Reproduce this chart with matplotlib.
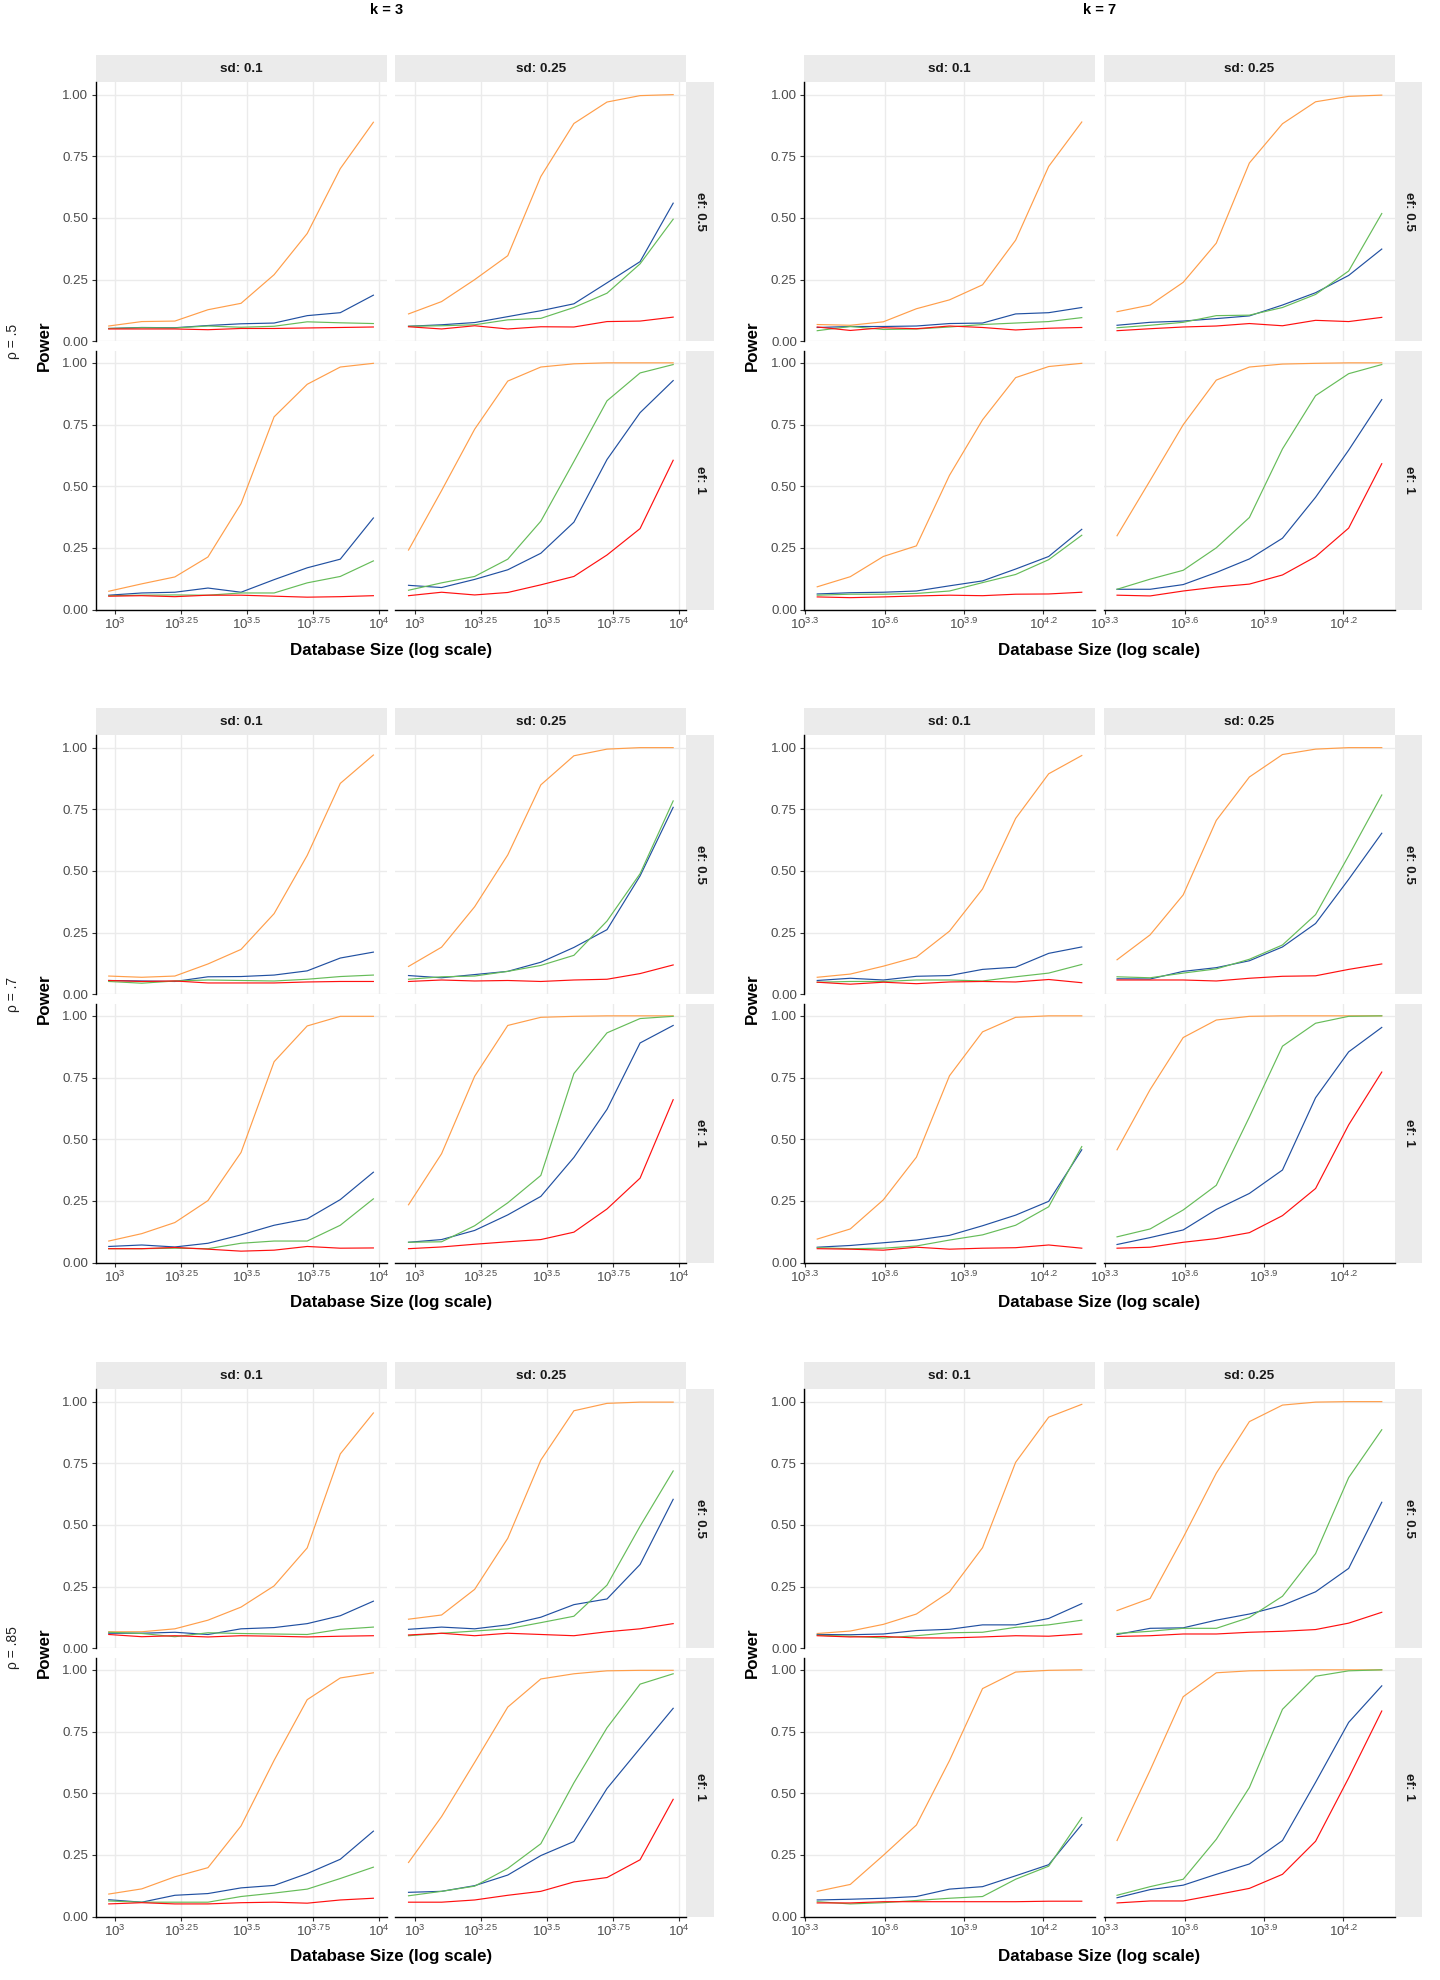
import numpy as np
import matplotlib
matplotlib.use("Agg")
import matplotlib.pyplot as plt
from matplotlib.ticker import NullLocator, FixedLocator

plt.rcParams['font.family'] = ['Liberation Sans', 'DejaVu Sans']
plt.rcParams['mathtext.fontset'] = 'custom'
plt.rcParams['mathtext.rm'] = 'Liberation Sans'

# ---------------- data ----------------
k_values = [3, 7]
rho_labels = ["ρ = .5", "ρ = .7", "ρ = .85"]
sd_labels = ["sd: 0.1", "sd: 0.25"]
ef_labels = ["ef: 0.5", "ef: 1"]
series_names = ["orange", "blue", "green", "red"]
series_colors = ["#FF9E4A", "#2150A1", "#66BC59", "#FF1010"]

db_size_k3 = [949, 1265, 1687, 2250, 3000, 4000, 5335, 7114, 9487]
db_size_k7 = [2214, 2952, 3936, 5249, 7000, 9334, 12448, 16599, 22136]

xtick_exp_k3 = [3, 3.25, 3.5, 3.75, 4]
xtick_lab_k3 = ["3", "3.25", "3.5", "3.75", "4"]
xtick_exp_k7 = [3.3, 3.6, 3.9, 4.2]
xtick_lab_k7 = ["3.3", "3.6", "3.9", "4.2"]
ytick_vals = [0.0, 0.25, 0.5, 0.75, 1.0]
ytick_labs = ["0.00", "0.25", "0.50", "0.75", "1.00"]

# rho = .5, k = 3
r5_k3_sd01_ef05 = {
    "orange": [0.062, 0.080, 0.082, 0.128, 0.154, 0.270, 0.437, 0.700, 0.888],
    "blue":   [0.052, 0.056, 0.055, 0.064, 0.071, 0.074, 0.104, 0.116, 0.187],
    "green":  [0.052, 0.055, 0.054, 0.062, 0.057, 0.061, 0.079, 0.075, 0.072],
    "red":    [0.050, 0.050, 0.050, 0.047, 0.052, 0.052, 0.054, 0.056, 0.058]}
r5_k3_sd025_ef05 = {
    "orange": [0.111, 0.161, 0.250, 0.347, 0.668, 0.883, 0.970, 0.996, 1.0],
    "blue":   [0.061, 0.067, 0.076, 0.100, 0.124, 0.152, 0.237, 0.323, 0.560],
    "green":  [0.061, 0.063, 0.067, 0.087, 0.093, 0.137, 0.195, 0.314, 0.495],
    "red":    [0.059, 0.050, 0.063, 0.050, 0.059, 0.058, 0.080, 0.082, 0.098]}
r5_k3_sd01_ef1 = {
    "orange": [0.074, 0.104, 0.132, 0.213, 0.429, 0.781, 0.913, 0.983, 0.998],
    "blue":   [0.058, 0.067, 0.070, 0.087, 0.070, 0.121, 0.169, 0.204, 0.371],
    "green":  [0.056, 0.058, 0.059, 0.058, 0.067, 0.067, 0.108, 0.134, 0.197],
    "red":    [0.054, 0.056, 0.052, 0.058, 0.058, 0.054, 0.050, 0.052, 0.056]}
r5_k3_sd025_ef1 = {
    "orange": [0.241, 0.482, 0.731, 0.926, 0.983, 0.996, 1.0, 1.0, 1.0],
    "blue":   [0.098, 0.089, 0.122, 0.161, 0.228, 0.354, 0.608, 0.798, 0.928],
    "green":  [0.078, 0.108, 0.134, 0.204, 0.358, 0.600, 0.846, 0.959, 0.993],
    "red":    [0.056, 0.070, 0.059, 0.069, 0.100, 0.134, 0.221, 0.328, 0.605]}

# rho = .5, k = 7
r5_k7_sd01_ef05 = {
    "orange": [0.068, 0.065, 0.079, 0.132, 0.168, 0.229, 0.410, 0.709, 0.889],
    "blue":   [0.056, 0.060, 0.060, 0.062, 0.072, 0.074, 0.111, 0.116, 0.137],
    "green":  [0.043, 0.060, 0.048, 0.050, 0.058, 0.068, 0.074, 0.080, 0.096],
    "red":    [0.058, 0.044, 0.055, 0.051, 0.062, 0.056, 0.046, 0.053, 0.056]}
r5_k7_sd025_ef05 = {
    "orange": [0.120, 0.147, 0.239, 0.398, 0.723, 0.882, 0.971, 0.993, 0.998],
    "blue":   [0.065, 0.077, 0.082, 0.092, 0.103, 0.147, 0.197, 0.267, 0.374],
    "green":  [0.055, 0.065, 0.077, 0.104, 0.106, 0.137, 0.190, 0.285, 0.518],
    "red":    [0.043, 0.051, 0.058, 0.062, 0.072, 0.063, 0.085, 0.080, 0.097]}
r5_k7_sd01_ef1 = {
    "orange": [0.092, 0.133, 0.215, 0.258, 0.544, 0.769, 0.940, 0.985, 0.998],
    "blue":   [0.063, 0.068, 0.070, 0.075, 0.096, 0.116, 0.164, 0.215, 0.325],
    "green":  [0.058, 0.062, 0.062, 0.065, 0.075, 0.109, 0.142, 0.202, 0.301],
    "red":    [0.051, 0.048, 0.051, 0.055, 0.058, 0.056, 0.062, 0.063, 0.070]}
r5_k7_sd025_ef1 = {
    "orange": [0.299, 0.523, 0.749, 0.930, 0.983, 0.995, 0.998, 1.0, 1.0],
    "blue":   [0.082, 0.082, 0.101, 0.150, 0.205, 0.289, 0.455, 0.646, 0.851],
    "green":  [0.082, 0.123, 0.159, 0.250, 0.373, 0.651, 0.867, 0.956, 0.993],
    "red":    [0.058, 0.055, 0.075, 0.091, 0.103, 0.140, 0.214, 0.330, 0.591]}

# rho = .7, k = 3
r7_k3_sd01_ef05 = {
    "orange": [0.074, 0.069, 0.074, 0.123, 0.182, 0.327, 0.563, 0.855, 0.970],
    "blue":   [0.056, 0.054, 0.052, 0.071, 0.072, 0.078, 0.095, 0.147, 0.171],
    "green":  [0.052, 0.045, 0.054, 0.058, 0.056, 0.054, 0.061, 0.072, 0.078],
    "red":    [0.056, 0.052, 0.054, 0.046, 0.046, 0.046, 0.050, 0.052, 0.052]}
r7_k3_sd025_ef05 = {
    "orange": [0.113, 0.191, 0.355, 0.565, 0.849, 0.967, 0.994, 1.0, 1.0],
    "blue":   [0.076, 0.067, 0.080, 0.093, 0.130, 0.190, 0.262, 0.480, 0.758],
    "green":  [0.061, 0.071, 0.074, 0.093, 0.117, 0.158, 0.297, 0.489, 0.784],
    "red":    [0.052, 0.058, 0.054, 0.056, 0.052, 0.058, 0.061, 0.084, 0.119]}
r7_k3_sd01_ef1 = {
    "orange": [0.087, 0.117, 0.162, 0.251, 0.446, 0.814, 0.959, 0.998, 0.998],
    "blue":   [0.065, 0.071, 0.063, 0.078, 0.112, 0.151, 0.177, 0.255, 0.366],
    "green":  [0.056, 0.056, 0.058, 0.056, 0.078, 0.087, 0.087, 0.151, 0.258],
    "red":    [0.056, 0.056, 0.061, 0.054, 0.046, 0.050, 0.065, 0.058, 0.059]}
r7_k3_sd025_ef1 = {
    "orange": [0.234, 0.441, 0.755, 0.961, 0.994, 0.998, 1.0, 1.0, 1.0],
    "blue":   [0.082, 0.093, 0.130, 0.193, 0.268, 0.426, 0.621, 0.890, 0.961],
    "green":  [0.082, 0.084, 0.149, 0.242, 0.353, 0.766, 0.931, 0.989, 0.998],
    "red":    [0.056, 0.063, 0.074, 0.084, 0.093, 0.123, 0.217, 0.342, 0.660]}

# rho = .7, k = 7
r7_k7_sd01_ef05 = {
    "orange": [0.069, 0.082, 0.114, 0.151, 0.256, 0.427, 0.713, 0.894, 0.968],
    "blue":   [0.056, 0.065, 0.058, 0.073, 0.076, 0.101, 0.110, 0.166, 0.192],
    "green":  [0.049, 0.052, 0.052, 0.058, 0.058, 0.054, 0.071, 0.086, 0.121],
    "red":    [0.049, 0.041, 0.049, 0.043, 0.050, 0.052, 0.050, 0.060, 0.047]}
r7_k7_sd025_ef05 = {
    "orange": [0.140, 0.241, 0.403, 0.705, 0.881, 0.972, 0.994, 1.0, 1.0],
    "blue":   [0.063, 0.062, 0.093, 0.108, 0.136, 0.192, 0.287, 0.466, 0.653],
    "green":  [0.071, 0.067, 0.086, 0.103, 0.142, 0.200, 0.323, 0.562, 0.808],
    "red":    [0.058, 0.058, 0.058, 0.054, 0.065, 0.073, 0.075, 0.101, 0.123]}
r7_k7_sd01_ef1 = {
    "orange": [0.095, 0.136, 0.254, 0.427, 0.757, 0.935, 0.994, 1.0, 1.0],
    "blue":   [0.062, 0.069, 0.080, 0.091, 0.110, 0.149, 0.192, 0.248, 0.457],
    "green":  [0.060, 0.056, 0.058, 0.067, 0.091, 0.112, 0.151, 0.226, 0.470],
    "red":    [0.056, 0.054, 0.050, 0.062, 0.054, 0.058, 0.060, 0.071, 0.058]}
r7_k7_sd025_ef1 = {
    "orange": [0.457, 0.701, 0.912, 0.983, 0.998, 1.0, 1.0, 1.0, 1.0],
    "blue":   [0.073, 0.101, 0.132, 0.215, 0.280, 0.375, 0.668, 0.854, 0.953],
    "green":  [0.104, 0.136, 0.213, 0.313, 0.590, 0.877, 0.970, 0.998, 1.0],
    "red":    [0.058, 0.062, 0.082, 0.097, 0.121, 0.190, 0.300, 0.558, 0.772]}

# rho = .85, k = 3
r85_k3_sd01_ef05 = {
    "orange": [0.067, 0.067, 0.079, 0.114, 0.167, 0.253, 0.407, 0.788, 0.954],
    "blue":   [0.061, 0.061, 0.065, 0.056, 0.079, 0.084, 0.100, 0.132, 0.191],
    "green":  [0.065, 0.060, 0.047, 0.063, 0.060, 0.058, 0.056, 0.077, 0.086],
    "red":    [0.056, 0.047, 0.051, 0.046, 0.051, 0.049, 0.046, 0.049, 0.051]}
r85_k3_sd025_ef05 = {
    "orange": [0.118, 0.135, 0.239, 0.446, 0.763, 0.963, 0.993, 0.998, 0.998],
    "blue":   [0.077, 0.086, 0.079, 0.095, 0.126, 0.177, 0.200, 0.340, 0.604],
    "green":  [0.051, 0.061, 0.070, 0.079, 0.104, 0.130, 0.256, 0.495, 0.719],
    "red":    [0.054, 0.061, 0.051, 0.061, 0.056, 0.051, 0.067, 0.079, 0.100]}
r85_k3_sd01_ef1 = {
    "orange": [0.091, 0.112, 0.161, 0.198, 0.367, 0.633, 0.879, 0.967, 0.988],
    "blue":   [0.068, 0.058, 0.086, 0.093, 0.116, 0.126, 0.174, 0.232, 0.346],
    "green":  [0.063, 0.058, 0.058, 0.058, 0.081, 0.095, 0.111, 0.154, 0.200],
    "red":    [0.051, 0.056, 0.051, 0.051, 0.056, 0.058, 0.054, 0.067, 0.074]}
r85_k3_sd025_ef1 = {
    "orange": [0.219, 0.405, 0.625, 0.849, 0.963, 0.984, 0.996, 0.998, 0.998],
    "blue":   [0.098, 0.102, 0.125, 0.168, 0.247, 0.304, 0.519, 0.682, 0.844],
    "green":  [0.084, 0.102, 0.123, 0.195, 0.295, 0.542, 0.765, 0.942, 0.984],
    "red":    [0.058, 0.058, 0.067, 0.086, 0.102, 0.140, 0.158, 0.230, 0.475]}

# rho = .85, k = 7
r85_k7_sd01_ef05 = {
    "orange": [0.060, 0.070, 0.097, 0.139, 0.229, 0.408, 0.754, 0.937, 0.989],
    "blue":   [0.056, 0.055, 0.058, 0.072, 0.077, 0.095, 0.095, 0.121, 0.181],
    "green":  [0.053, 0.049, 0.042, 0.051, 0.063, 0.065, 0.085, 0.095, 0.114],
    "red":    [0.051, 0.046, 0.048, 0.042, 0.042, 0.046, 0.051, 0.049, 0.058]}
r85_k7_sd025_ef05 = {
    "orange": [0.153, 0.202, 0.449, 0.710, 0.919, 0.986, 0.998, 1.0, 1.0],
    "blue":   [0.056, 0.081, 0.083, 0.114, 0.139, 0.174, 0.229, 0.324, 0.592],
    "green":  [0.060, 0.069, 0.081, 0.081, 0.125, 0.211, 0.384, 0.692, 0.886],
    "red":    [0.048, 0.051, 0.058, 0.058, 0.065, 0.069, 0.076, 0.102, 0.146]}
r85_k7_sd01_ef1 = {
    "orange": [0.102, 0.130, 0.248, 0.371, 0.632, 0.924, 0.991, 0.998, 1.0],
    "blue":   [0.067, 0.070, 0.074, 0.081, 0.111, 0.121, 0.165, 0.210, 0.373],
    "green":  [0.060, 0.051, 0.056, 0.065, 0.074, 0.081, 0.151, 0.204, 0.401],
    "red":    [0.055, 0.055, 0.060, 0.060, 0.060, 0.060, 0.060, 0.062, 0.062]}
r85_k7_sd025_ef1 = {
    "orange": [0.308, 0.593, 0.891, 0.988, 0.996, 0.998, 1.0, 1.0, 1.0],
    "blue":   [0.076, 0.109, 0.127, 0.171, 0.213, 0.308, 0.544, 0.787, 0.935],
    "green":  [0.086, 0.121, 0.151, 0.313, 0.523, 0.840, 0.974, 0.996, 1.0],
    "red":    [0.055, 0.063, 0.063, 0.088, 0.114, 0.171, 0.305, 0.562, 0.833]}

blocks = {
    (0, 0): [[r5_k3_sd01_ef05, r5_k3_sd025_ef05], [r5_k3_sd01_ef1, r5_k3_sd025_ef1]],
    (0, 1): [[r5_k7_sd01_ef05, r5_k7_sd025_ef05], [r5_k7_sd01_ef1, r5_k7_sd025_ef1]],
    (1, 0): [[r7_k3_sd01_ef05, r7_k3_sd025_ef05], [r7_k3_sd01_ef1, r7_k3_sd025_ef1]],
    (1, 1): [[r7_k7_sd01_ef05, r7_k7_sd025_ef05], [r7_k7_sd01_ef1, r7_k7_sd025_ef1]],
    (2, 0): [[r85_k3_sd01_ef05, r85_k3_sd025_ef05], [r85_k3_sd01_ef1, r85_k3_sd025_ef1]],
    (2, 1): [[r85_k7_sd01_ef05, r85_k7_sd025_ef05], [r85_k7_sd01_ef1, r85_k7_sd025_ef1]],
}

# ---------------- layout (pixels) ----------------
W, H = 1440, 1980
fig = plt.figure(figsize=(W / 100, H / 100), dpi=100)
fig.patch.set_facecolor("white")

row_top = [55, 708, 1362]
col_panels = [[(95.5, 386.6), (395.3, 686.4)], [(804.0, 1095.0), (1103.8, 1395.0)]]
strip_h = 27.3
panel_h = 259.0
panel_gap = 9.2
strip_w = 27.4
GRID = "#EBEBEB"
STRIP = "#EBEBEB"
TXT = "#1A1A1A"
TICKTXT = "#4D4D4D"


def px_axes(x0, y0, x1, y1):
    return fig.add_axes([x0 / W, 1 - y1 / H, (x1 - x0) / W, (y1 - y0) / H])


def strip(x0, y0, x1, y1, label, rot=0):
    a = px_axes(x0, y0, x1, y1)
    a.set_facecolor(STRIP)
    a.set_xticks([]); a.set_yticks([])
    for s in a.spines.values():
        s.set_visible(False)
    a.text(0.5, 0.5, label, transform=a.transAxes, ha="center", va="center",
           rotation=rot, fontsize=9.7, fontweight="bold", color=TXT)


for r in range(3):
    S = row_top[r]
    for c in range(2):
        sizes = db_size_k3 if c == 0 else db_size_k7
        texp = xtick_exp_k3 if c == 0 else xtick_exp_k7
        tlab = xtick_lab_k3 if c == 0 else xtick_lab_k7
        lo, hi = np.log10(min(sizes)), np.log10(max(sizes))
        span = hi - lo
        xlim = (10 ** (lo - 0.05 * span), 10 ** (hi + 0.05 * span))
        panels = blocks[(r, c)]
        # column strips
        for j in range(2):
            x0, x1 = col_panels[c][j]
            strip(x0, S, x1, S + strip_h, sd_labels[j])
        for i in range(2):
            y0 = S + strip_h + i * (panel_h + panel_gap)
            y1 = y0 + panel_h
            # row strip
            xr = col_panels[c][1][1]
            strip(xr, y0, xr + strip_w, y1, ef_labels[i], rot=-90)
            for j in range(2):
                x0, x1 = col_panels[c][j]
                ax = px_axes(x0, y0, x1, y1)
                ax.set_facecolor("white")
                ax.set_xscale("log")
                ax.set_xlim(*xlim)
                ax.set_ylim(0, 1.05)
                ax.xaxis.set_major_locator(FixedLocator([10 ** e for e in texp]))
                ax.xaxis.set_minor_locator(NullLocator())
                ax.yaxis.set_major_locator(FixedLocator(ytick_vals))
                ax.yaxis.set_minor_locator(NullLocator())
                ax.set_xticklabels([r"$\mathregular{10^{%s}}$" % t for t in tlab])
                ax.set_yticklabels(ytick_labs)
                ax.grid(True, which="major", color=GRID, linewidth=1.0)
                ax.set_axisbelow(True)
                for s in ax.spines.values():
                    s.set_visible(False)
                show_left = (j == 0)
                show_bottom = (i == 1)
                if show_left:
                    ax.spines["left"].set_visible(True)
                    ax.spines["left"].set_color("black")
                    ax.spines["left"].set_linewidth(1.0)
                if show_bottom:
                    ax.spines["bottom"].set_visible(True)
                    ax.spines["bottom"].set_color("black")
                    ax.spines["bottom"].set_linewidth(1.0)
                ax.tick_params(axis="y", length=2.9 if show_left else 0, width=0.8,
                               color="#333333", labelleft=show_left,
                               labelsize=9.6, labelcolor=TICKTXT, pad=2.2)
                ax.tick_params(axis="x", length=2.9 if show_bottom else 0, width=0.8,
                               color="#333333", labelbottom=show_bottom,
                               labelsize=9.6, labelcolor=TICKTXT, pad=2.2)
                data = panels[i][j]
                for name, col in zip(series_names, series_colors):
                    ax.plot(sizes, data[name], color=col, linewidth=0.85,
                            solid_joinstyle="round")
        # axis titles
        xl0 = col_panels[c][0][0]
        xl1 = col_panels[c][1][1]
        fig.text(((xl0 + xl1) / 2) / W, 1 - (S + 595) / H, "Database Size (log scale)",
                 ha="center", va="center", fontsize=12.2, fontweight="bold", color="black")
        px_power = 44.5 if c == 0 else 752
        fig.text(px_power / W, 1 - (S + 291) / H, "Power", rotation=90,
                 ha="center", va="center", fontsize=12.2, fontweight="bold", color="black")
    # rho label
    fig.text(13 / W, 1 - (S + 286) / H, rho_labels[r], rotation=90,
             ha="center", va="center", fontsize=10, color="#222222")

fig.text(387 / W, 1 - 10 / H, "k = %d" % k_values[0], ha="center", va="center",
         fontsize=10.5, fontweight="bold", color="black")
fig.text(1100 / W, 1 - 10 / H, "k = %d" % k_values[1], ha="center", va="center",
         fontsize=10.5, fontweight="bold", color="black")

fig.savefig("out.png", dpi=100, facecolor="white")
